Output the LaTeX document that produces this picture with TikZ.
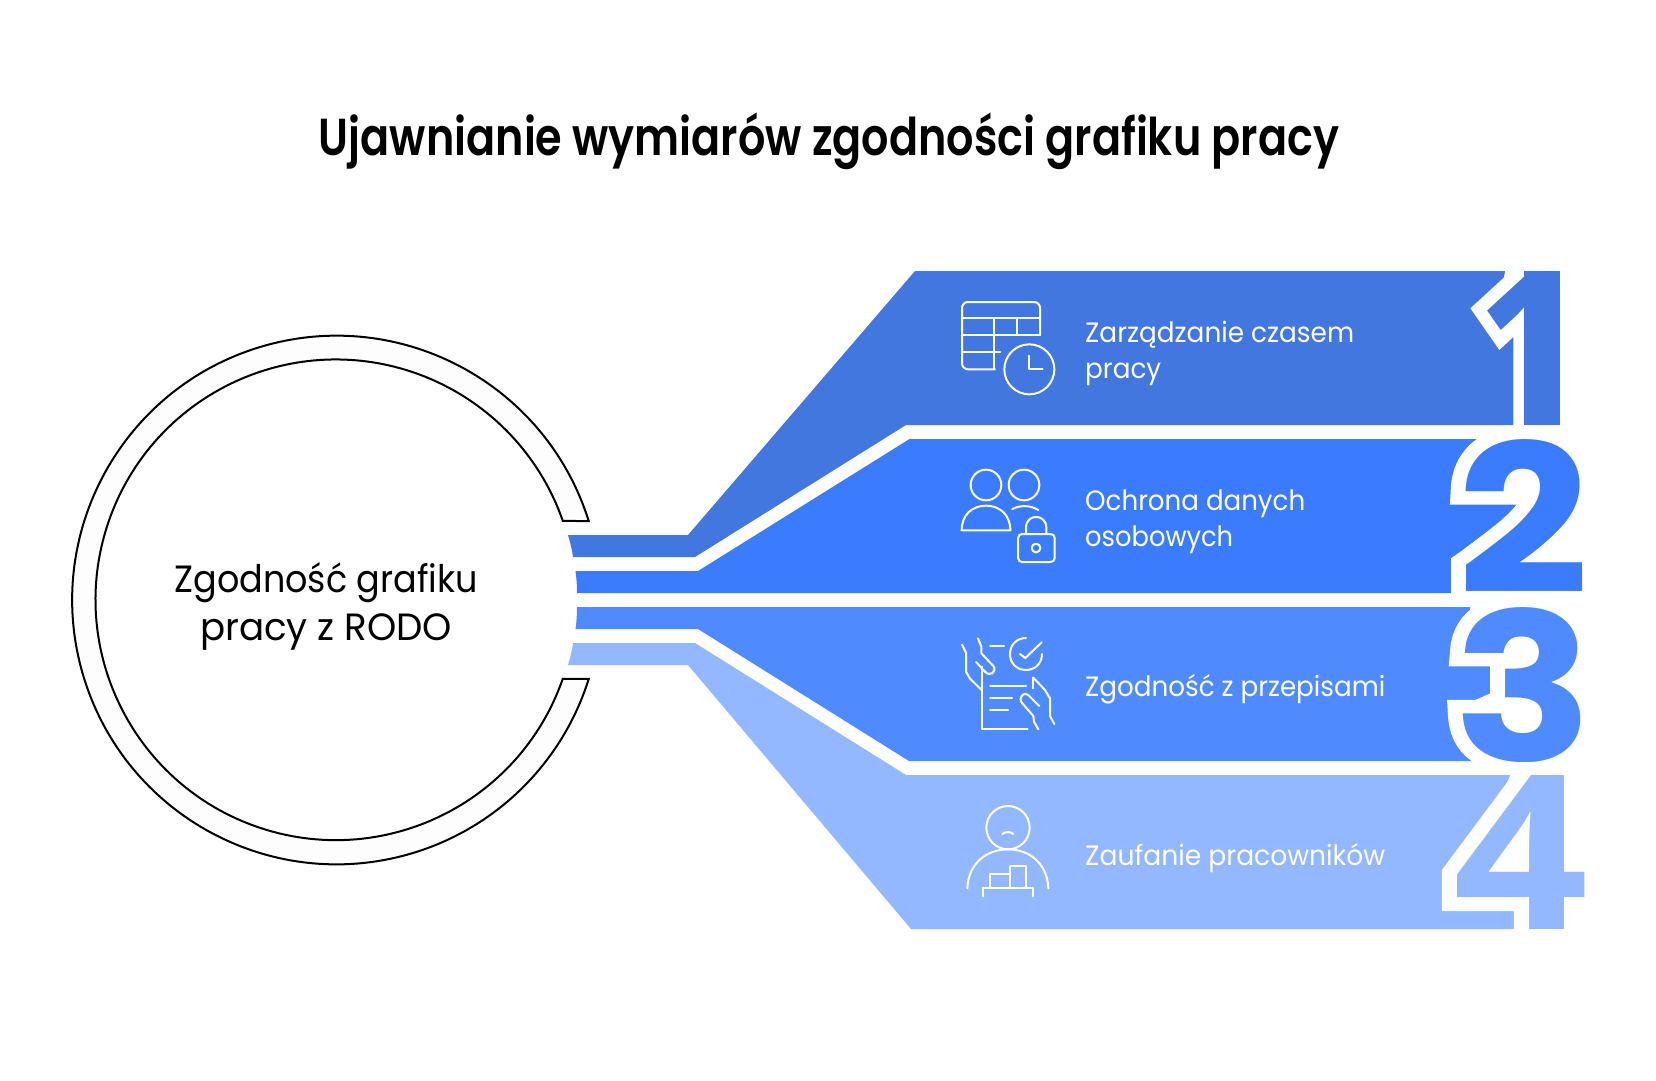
\documentclass[tikz,border=0pt]{standalone}
\usepackage{fontspec}
\usepackage{graphicx}
\setmainfont{Poppins}
\newfontfamily\titlefont{Poppins SemiBold}
\newfontfamily\numf{Poppins}
\newfontfamily\numg{Open Sans}
\usetikzlibrary{calc}
\definecolor{bandA}{HTML}{4277E0}
\definecolor{bandB}{HTML}{3B7CFF}
\definecolor{bandC}{HTML}{4F8BFF}
\definecolor{bandD}{HTML}{94B8FF}
\definecolor{ringfill}{HTML}{FEFDFE}
\newcommand{\fitt}[3]{\resizebox{#1pt}{\height}{\fontsize{#2}{#2}\selectfont #3}}
\newcommand{\digit}[4]{\resizebox{#1pt}{#2pt}{#3\bfseries\fontsize{200}{200}\selectfont #4}}
\newcommand{\digito}[4]{\resizebox{#1pt}{#2pt}{\special{pdf:code 3 M}#3\bfseries\addfontfeature{FakeBold=13}\fontsize{200}{200}\selectfont #4}}
\tikzset{
 icon/.style={draw=white,line width=2pt,line cap=round,line join=round},
 lab/.style={text=white,inner sep=0pt,anchor=base west},
 hub/.style={inner sep=0pt,text=black,anchor=base},
 dg/.style={inner sep=0pt,anchor=base west},
}
\begin{document}
\begin{tikzpicture}[x=1pt,y=-1pt]
\useasboundingbox (0,0) rectangle (1656,1080);
\fill[white] (0,0) rectangle (1656,1080);
\node[hub] (title) at (829,155.5) {\fitt{1020}{52}{\titlefont Ujawnianie wymiarów zgodności grafiku pracy}};
% ring
\coordinate (c) at (336.5,600);
\draw[fill=ringfill,draw=black,line width=2pt,line join=miter]
 (c) ++(-17.35:264.3) arc[start angle=-17.35,end angle=-342.65,radius=264.3]
 -- ++(-26,0) arc[start angle=-340.8,end angle=-19.2,radius=240.3] -- cycle;
\node[hub] (hub1) at (326,592) {\fitt{303}{38}{Zgodność grafiku}};
\node[hub] (hub2) at (326,640) {\fitt{252}{38}{pracy z RODO}};
% bands
\fill[bandA] (568,535) -- (688,535) -- (915,271) -- (1505,271) -- (1500,300) -- (1500,318) -- (1516,322) --(1516,425)-- (906,425) -- (695,557) -- (573,557) .. controls (572,549) and (570,542) .. (568,535) -- cycle;
\fill[bandB] (575.5,571) -- (698,571) -- (909.5,439) -- (1500,439) -- (1478,470) -- (1482,492) -- (1515,495) -- (1525,520) -- (1475,575) -- (1470,593) -- (577,593) .. controls (577,585) and (576.5,578) .. (575.5,571) -- cycle;
\fill[bandC] (577,607) -- (1470,607) -- (1475,640)-- (1490,665)--(1520,680) -- (1475,700) -- (1490,761) -- (909,761) -- (698,629) -- (575.5,629) .. controls (576.5,622) and (577,615) .. (577,607) -- cycle;
\fill[bandD] (573,643) -- (695,643) -- (906,775) -- (1510,775) -- (1470,880) -- (1480,900) -- (1525,905) -- (1525,929) -- (911,929) -- (688,665) -- (568,665) .. controls (570,658) and (572,651) .. (573,643) -- cycle;
\fill[bandD] (1540,775) rectangle (1568,929);
% digits
\begin{scope}
\clip (1400,262) rectangle (1600,425);
\node[dg,text=white] at (1476.3,425) {\digito{107}{154}{\numg}{1}};
\node[dg,text=bandA] (d1) at (1476.3,425) {\digit{107}{154}{\numg}{1}};
\end{scope}
\fill[bandA] (1524,271) rectangle (1560,425);
\begin{scope}
\clip (1400,432) rectangle (1600,593);
\node[dg,text=white] at (1457,593) {\digito{132}{154}{\numf}{2}};
\node[dg,text=bandB] (d2) at (1457,593) {\digit{132}{154}{\numf}{2}};
\end{scope}
\begin{scope}
\clip (1400,600) rectangle (1600,761);
\node[dg,text=white] at (1453,761) {\digito{140}{154}{\numf}{3}};
\node[dg,text=bandC] (d3) at (1453,761) {\digit{140}{154}{\numf}{3}};
\end{scope}
\begin{scope}
\clip (1400,768) rectangle (1600,929);
\node[dg,text=white] at (1453,929) {\digito{135}{154}{\numg}{4}};
\node[dg,text=bandD] (d4) at (1453,929) {\digit{135}{154}{\numg}{4}};
\end{scope}
% labels
\node[lab] (l1a) at (1085,342.7) {\fitt{269}{28}{Zarządzanie czasem}};
\node[lab] (l1b) at (1085,378.7) {\fitt{76}{28}{pracy}};
\node[lab] (l2a) at (1085,510) {\fitt{220}{28}{Ochrona danych}};
\node[lab] (l2b) at (1085,546.5) {\fitt{148}{28}{osobowych}};
\node[lab] (l3a) at (1085,696.7) {\fitt{300}{28}{Zgodność z przepisami}};
\node[lab] (l4a) at (1085,865) {\fitt{300}{28}{Zaufanie pracowników}};
% icon 1
\begin{scope}[shift={(950,290)},scale=1/3]
\draw[icon] (270,135) -- (270,54) arc[start angle=0,end angle=-90,radius=18] -- (54,36) arc[start angle=-90,end angle=-180,radius=18] -- (36,220) arc[start angle=180,end angle=90,radius=18] -- (135,238);
\draw[icon] (36,85) -- (270,85) (36,135) -- (270,135) (36,185) -- (150,185) (132,85) -- (132,238) (200,85) -- (200,135);
\draw[icon] (238,238) circle[radius=75];
\draw[icon] (238,197) -- (238,238) -- (278,238);
\end{scope}
% icon 2
\begin{scope}[shift={(950,460)},scale=1/3]
\draw[icon] (108,75) circle[radius=46] (222,75) circle[radius=46];
\draw[icon] (35,211) -- (181,211) .. controls (181,165) and (150,137) .. (108,137) .. controls (66,137) and (35,165) .. (35,211) -- cycle;
\draw[icon] (187,147) .. controls (210,135) and (240,135) .. (265,150);
\draw[icon,rounded corners=4pt] (204,222) rectangle (314,306);
\draw[icon] (228,222) -- (228,203) .. controls (228,160) and (289,160) .. (289,203) -- (289,222);
\draw[icon] (258,264) circle[radius=13];
\end{scope}
% icon 3
\begin{scope}[shift={(950,630)},scale=1/3]
\draw[icon] (36,44) -- (48,68) -- (48,125) -- (60,146) -- (95,180);
\draw[icon] (84,25) -- (94,50) -- (94,70) -- (130,108) .. controls (142,125) and (120,142) .. (105,125) -- (78,96);
\draw[icon] (96,110) -- (96,298) -- (233,298);
\draw[icon] (120,47) -- (162,47) (120,167) -- (228,167) (120,203) -- (186,203) (120,239) -- (174,239);
\draw[icon] (228,24) .. controls (200,24) and (180,45) .. (180,72) .. controls (180,100) and (200,120) .. (228,120) .. controls (255,120) and (276,100) .. (276,72);
\draw[icon] (210,72) -- (226,84) -- (275,37);
\draw[icon] (250,143) -- (285,180) -- (300,205) -- (300,258) -- (313,282);
\draw[icon] (250,143) -- (250,175);
\draw[icon] (268,228) -- (235,195) .. controls (222,182) and (202,205) .. (217,220) -- (250,258) -- (252,275) -- (265,298);
\end{scope}
% icon 4
\begin{scope}[shift={(950,800)},scale=1/3]
\draw[icon] (174,83) circle[radius=65];
\draw[icon] (157,102) .. controls (168,94) and (180,94) .. (190,102);
\draw[icon] (52,265) .. controls (55,190) and (110,148) .. (174,148) .. controls (238,148) and (292,190) .. (295,265);
\draw[icon] (98,290) -- (98,263) -- (248,263) -- (248,290);
\draw[icon] (120,263) -- (120,222) -- (180,222);
\draw[icon] (180,263) -- (180,198) -- (228,198) -- (228,263);
\end{scope}
\end{tikzpicture}
\end{document}
